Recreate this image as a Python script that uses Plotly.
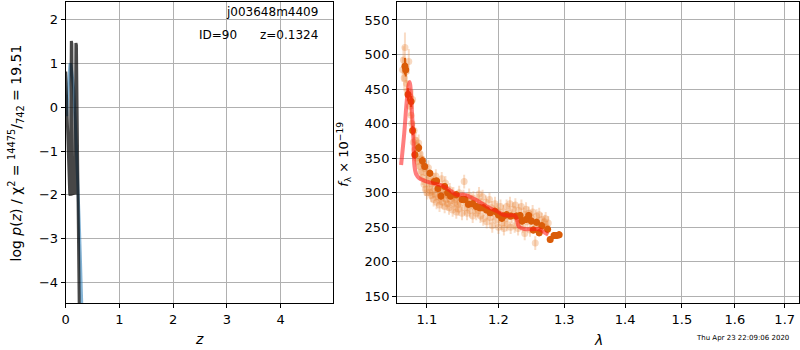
import plotly.graph_objects as go

# ---------------- data ----------------
# left panel: log p(z)
z_chi = [0.00, 0.03, 0.075, 0.085, 0.105, 0.115, 0.125, 0.165, 0.175, 0.19, 0.20, 0.225, 0.235, 0.245, 0.26]
logp_chi = [0.82, -0.40, -1.98, -2.02, 1.52, 1.45, -1.98, -1.96, -1.99, 1.47, 1.42, -1.50, -3.00, -4.20, -5.50]

z_fit = [0.00, 0.02, 0.04, 0.06, 0.08, 0.087, 0.10, 0.12, 0.15, 0.18, 0.21, 0.23, 0.25, 0.27, 0.29, 0.30, 0.32]
logp_fit = [0.30, -0.20, 0.35, 0.80, 0.98, 1.00, 0.95, 0.75, 0.40, -0.35, -1.20, -1.90, -2.55, -3.30, -4.10, -4.55, -5.40]

# right panel: spectrum
lam_raw = [1.068, 1.069, 1.070, 1.071, 1.072, 1.073, 1.074, 1.076, 1.077, 1.078, 1.079, 1.080,
           1.081, 1.082, 1.083, 1.084, 1.085, 1.086, 1.087, 1.088, 1.089, 1.090, 1.091, 1.092,
           1.093, 1.094, 1.095, 1.096, 1.097, 1.098, 1.099, 1.100, 1.101, 1.102, 1.103, 1.104,
           1.105, 1.106, 1.107, 1.108, 1.109, 1.110, 1.111, 1.112, 1.113, 1.114, 1.115, 1.116,
           1.117, 1.118, 1.119, 1.120, 1.121, 1.122, 1.123, 1.124, 1.125, 1.126, 1.127, 1.128,
           1.129, 1.130, 1.131, 1.132, 1.134, 1.135, 1.136, 1.137, 1.138, 1.140, 1.141, 1.142,
           1.143, 1.144, 1.146, 1.148, 1.150, 1.151, 1.152, 1.154, 1.155, 1.157, 1.158, 1.159,
           1.161, 1.163, 1.164, 1.166, 1.168, 1.170, 1.171, 1.172, 1.174, 1.175, 1.177, 1.178,
           1.180, 1.182, 1.183, 1.185, 1.187, 1.188, 1.190, 1.191, 1.193, 1.195, 1.196, 1.198,
           1.200, 1.201, 1.203, 1.205, 1.207, 1.208, 1.210, 1.212, 1.213, 1.215, 1.217, 1.218,
           1.220, 1.222, 1.224, 1.225, 1.227, 1.229, 1.230, 1.232, 1.234, 1.236, 1.238, 1.239,
           1.241, 1.243, 1.245, 1.247, 1.249, 1.251, 1.253, 1.255, 1.257, 1.259, 1.261, 1.263,
           1.265, 1.267, 1.269, 1.271, 1.273, 1.275]
flux_raw = [478, 492, 466, 510, 475, 458, 447, 490, 425, 438, 412, 400,
            435, 373, 390, 362, 376, 350, 368, 345, 372, 338, 356, 330,
            349, 322, 342, 312, 335, 305, 328, 300, 318, 336, 308, 300,
            322, 296, 312, 302, 290, 318, 298, 324, 286, 305, 294, 310,
            282, 300, 292, 320, 286, 304, 296, 280, 314, 290, 300, 284,
            296, 278, 304, 288, 294, 275, 298, 284, 290, 272, 292, 282,
            276, 300, 285, 270, 294, 316, 278, 288, 270, 283, 296, 274,
            286, 266, 292, 279, 270, 288, 274, 298, 266, 282, 294, 262,
            276, 286, 258, 272, 290, 264, 278, 252, 270, 284, 260, 275,
            250, 266, 280, 256, 272, 248, 262, 280, 254, 270, 284, 250,
            266, 276, 252, 282, 262, 248, 274, 258, 280, 252, 268, 241,
            276, 258, 270, 246, 264, 272, 252, 227, 266, 254, 268, 248,
            261, 252, 258, 262, 249, 256]
err_raw = [18, 20, 18, 22, 16, 16, 15, 18, 14, 14, 14, 13,
           14, 12, 13, 12, 12, 12, 12, 11, 12, 11, 12, 11,
           11, 11, 11, 10, 11, 10, 11, 10, 10, 11, 10, 10,
           10, 10, 10, 10, 10, 10, 10, 10, 10, 10, 10, 10,
           10, 10, 10, 10, 10, 10, 10, 10, 10, 10, 10, 10,
           10, 10, 10, 10, 10, 10, 10, 10, 10, 10, 10, 10,
           10, 10, 10, 10, 10, 10, 10, 10, 10, 10, 10, 10,
           10, 10, 10, 10, 10, 10, 10, 10, 10, 10, 10, 10,
           10, 10, 10, 10, 10, 10, 10, 10, 10, 10, 10, 10,
           10, 10, 10, 10, 10, 10, 10, 10, 10, 10, 10, 10,
           10, 10, 10, 10, 10, 10, 10, 10, 10, 10, 10, 10,
           10, 10, 10, 10, 10, 10, 10, 10, 10, 10, 10, 10,
           10, 10, 10, 10, 10, 10]

lam_bin = [1.071, 1.072, 1.075, 1.079, 1.081, 1.084, 1.089, 1.094, 1.097, 1.104, 1.110, 1.113,
           1.115, 1.119, 1.124, 1.128, 1.132, 1.140, 1.148, 1.152, 1.157, 1.163, 1.168, 1.173,
           1.178, 1.183, 1.188, 1.195, 1.200, 1.205, 1.207, 1.212, 1.218, 1.226, 1.232, 1.235,
           1.241, 1.245, 1.249, 1.252, 1.257, 1.261, 1.265, 1.274, 1.278, 1.284, 1.288, 1.292]
flux_bin = [483, 478, 442, 432, 390, 355, 365, 346, 338, 328, 316, 317,
            306, 295, 309, 300, 295, 297, 290, 290, 283, 284, 280, 278,
            278, 275, 271, 273, 268, 263, 266, 268, 266, 266, 267, 259,
            261, 267, 259, 246, 257, 242, 252, 247, 232, 238, 238, 239]
err_bin = [12, 10, 9, 8, 7, 6, 6, 6, 5, 5, 5, 5,
           5, 5, 5, 5, 5, 5, 5, 5, 5, 5, 5, 5,
           5, 5, 5, 5, 5, 5, 5, 5, 5, 5, 5, 5,
           5, 5, 5, 5, 5, 5, 5, 5, 5, 5, 5, 5]

lam_model = [1.066, 1.070, 1.074, 1.077, 1.078, 1.080, 1.082, 1.0835, 1.086, 1.0897, 1.095, 1.100,
             1.110, 1.119, 1.126, 1.133, 1.140, 1.151, 1.165, 1.183, 1.198, 1.207, 1.215, 1.224,
             1.227, 1.230, 1.236, 1.241, 1.250, 1.261, 1.268, 1.275]
flux_model = [340, 385, 440, 460, 455, 420, 380, 338, 326, 321, 318, 316,
              313, 311, 307, 302, 297, 297, 291, 280, 273, 268, 267, 267,
              262, 251, 248, 247, 247, 247, 243, 239]

z_ticks = [0, 1, 2, 3, 4]
logp_ticks = [-4, -3, -2, -1, 0, 1, 2]
lam_ticks = [1.1, 1.2, 1.3, 1.4, 1.5, 1.6, 1.7]
flux_ticks = [150, 200, 250, 300, 350, 400, 450, 500, 550]

obj_name = "j003648m4409"
obj_info = "ID=90\u00a0\u00a0\u00a0\u00a0\u00a0\u00a0z=0.1324"
timestamp = "Thu Apr 23 22:09:06 2020"

# ---------------- figure ----------------
FONT = "DejaVu Sans"
fig = go.Figure()

fig.add_trace(go.Scatter(x=z_fit, y=logp_fit, mode="lines",
                         line=dict(color="rgba(31,119,180,0.55)", width=3),
                         xaxis="x", yaxis="y", showlegend=False))
fig.add_trace(go.Scatter(x=z_chi, y=logp_chi, mode="lines",
                         line=dict(color="rgba(0,0,0,0.72)", width=3),
                         xaxis="x", yaxis="y", showlegend=False))

fig.add_trace(go.Scatter(x=lam_raw, y=flux_raw, mode="markers",
                         marker=dict(color="rgba(232,128,50,0.30)", size=7, line=dict(width=0)),
                         error_y=dict(type="data", array=err_raw, visible=True,
                                      color="rgba(232,128,50,0.28)", thickness=2, width=0),
                         xaxis="x2", yaxis="y2", showlegend=False))
fig.add_trace(go.Scatter(x=lam_bin, y=flux_bin, mode="markers",
                         marker=dict(color="rgb(218,92,8)", size=7, line=dict(width=0)),
                         error_y=dict(type="data", array=err_bin, visible=True,
                                      color="rgb(218,92,8)", thickness=2, width=0),
                         xaxis="x2", yaxis="y2", showlegend=False))
fig.add_trace(go.Scatter(x=lam_model, y=flux_model, mode="lines",
                         line=dict(color="rgba(255,20,20,0.55)", width=4, shape="spline"),
                         xaxis="x2", yaxis="y2", showlegend=False))

axis_common = dict(showline=True, linecolor="black", linewidth=1, mirror=True,
                   ticks="outside", ticklen=4, tickcolor="black", tickwidth=1,
                   showgrid=True, gridcolor="#b0b0b0", gridwidth=1, zeroline=False,
                   tickfont=dict(family=FONT, size=13, color="black"))

fig.update_layout(
    width=800, height=350,
    margin=dict(l=0, r=0, t=0, b=0),
    paper_bgcolor="white", plot_bgcolor="white",
    font=dict(family=FONT, color="black"),
    xaxis=dict(domain=[0.0775, 0.41375], range=[0, 4.98], tickvals=z_ticks, anchor="y", **axis_common),
    yaxis=dict(domain=[0.1314, 0.9943], range=[-4.48, 2.41], tickvals=logp_ticks, anchor="x", **axis_common),
    xaxis2=dict(domain=[0.49375, 0.99875], type="log", range=[0.0256, 0.2380],
                tickvals=lam_ticks, ticktext=[str(t) for t in lam_ticks], anchor="y2", **axis_common),
    yaxis2=dict(domain=[0.1314, 0.9943], range=[140, 576], tickvals=flux_ticks, anchor="x2", **axis_common),
)

annots = [
    dict(x=0.397, y=0.966, xref="paper", yref="paper", text=obj_name, showarrow=False,
         xanchor="right", yanchor="middle", font=dict(family=FONT, size=12, color="black")),
    dict(x=0.397, y=0.9, xref="paper", yref="paper", text=obj_info, showarrow=False,
         xanchor="right", yanchor="middle", font=dict(family=FONT, size=12, color="black")),
    dict(x=12 / 800, y=1 - 153 / 350, xref="paper", yref="paper",
         text="log <i>p</i>(<i>z</i>) / χ<sup>2</sup> = <sup>14475</sup>/<sub>742</sub> = 19.51",
         textangle=-90, showarrow=False, xanchor="center", yanchor="middle",
         font=dict(family=FONT, size=14, color="black")),
    dict(x=196 / 800, y=1 - 340 / 350, xref="paper", yref="paper", text="<i>z</i>",
         showarrow=False, xanchor="center", yanchor="middle",
         font=dict(family=FONT, size=14, color="black")),
    dict(x=341 / 800, y=1 - 155 / 350, xref="paper", yref="paper",
         text="<i>f</i><sub>λ</sub> × 10<sup>−19</sup>",
         textangle=-90, showarrow=False, xanchor="center", yanchor="middle",
         font=dict(family=FONT, size=13, color="black")),
    dict(x=597 / 800, y=1 - 341 / 350, xref="paper", yref="paper", text="<i>λ</i>",
         showarrow=False, xanchor="center", yanchor="middle",
         font=dict(family=FONT, size=14, color="black")),
    dict(x=742 / 800, y=1 - 339 / 350, xref="paper", yref="paper", text=timestamp,
         showarrow=False, xanchor="center", yanchor="middle",
         font=dict(family=FONT, size=7, color="black")),
]
fig.update_layout(annotations=annots)

fig.write_html("out.html",
               config={"displayModeBar": False},
               post_script="document.body.style.margin='0';document.body.style.padding='0';"
                           "document.body.style.overflow='hidden';")
